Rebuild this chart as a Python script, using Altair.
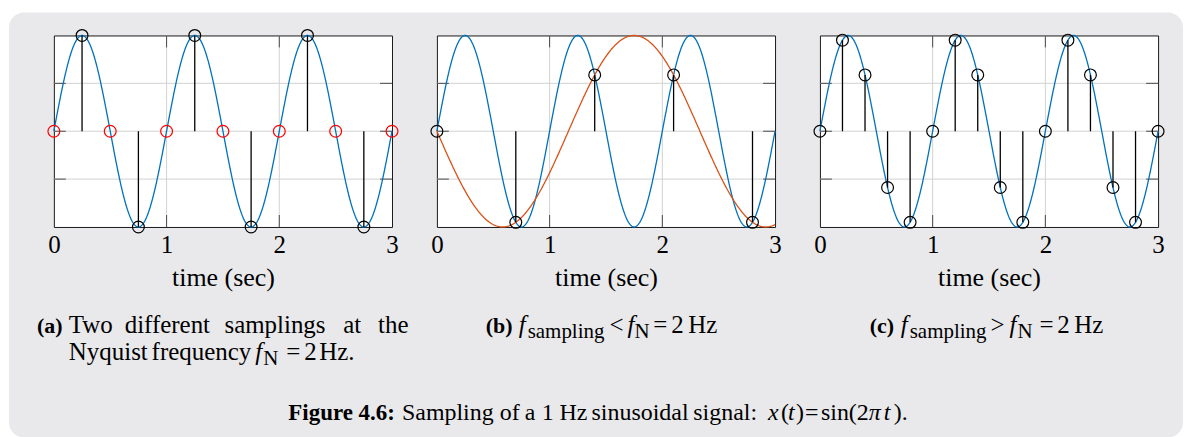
import numpy as np
import pandas as pd
import altair as alt

# ---------------- data ----------------
# continuous signal x(t) = sin(2*pi*t) and the alias seen in (b)
t_curve = np.linspace(0, 3, 601)
x_curve = np.sin(2 * np.pi * t_curve)
alias_curve = -np.sin(2 * np.pi * (3 / 7) * t_curve)

# (a) two samplings at the Nyquist frequency
a_peak_t = [0.25, 0.75, 1.25, 1.75, 2.25, 2.75]
a_peak_v = [1, -1, 1, -1, 1, -1]
a_zero_t = [0, 0.5, 1, 1.5, 2, 2.5, 3]
a_zero_v = [0, 0, 0, 0, 0, 0, 0]
# (b) under-sampling
b_t = [0, 0.7, 1.4, 2.1, 2.8]
b_v = [0, -0.951, 0.588, 0.588, -0.951]
# (c) over-sampling
c_t = [0, 0.2, 0.4, 0.6, 0.8, 1.0, 1.2, 1.4, 1.6, 1.8, 2.0, 2.2, 2.4, 2.6, 2.8, 3.0]
c_v = [0, 0.951, 0.588, -0.588, -0.951, 0, 0.951, 0.588, -0.588, -0.951,
       0, 0.951, 0.588, -0.588, -0.951, 0]

x_ticks = [0, 1, 2, 3]
x_grid = [1, 2]
y_grid = [-0.5, 0, 0.5]

# ---------------- style ----------------
FONT = "Liberation Serif"
W, H = 339, 192
BLUE = "#0072BD"
ORANGE = "#D95319"
GRID = "#d2d2d2"
TICK = "#4a4a4a"
BG = "#e9e9eb"
OX, OY = 6, 34  # page position of the background element

xscale = alt.Scale(domain=[0, 3], nice=False, zero=False)
yscale = alt.Scale(domain=[-1, 1], nice=False, zero=False)
xaxis = alt.Axis(values=x_ticks, format="d", grid=False, ticks=False, tickSize=0,
                 domain=False, labelFont=FONT, labelFontSize=25, labelColor="black",
                 labelPadding=6, labelFlush=False, labelOverlap=False,
                 title="time (sec)", titleFont=FONT, titleFontSize=26,
                 titleFontWeight="normal", titleColor="black", titleY=59,
                 titleBaseline="alphabetic")


def X():
    return alt.X("t:Q", scale=xscale, axis=xaxis)


def Y():
    return alt.Y("v:Q", scale=yscale, axis=None)


def frame_layers():
    dxg = pd.DataFrame({"t": x_grid})
    dyg = pd.DataFrame({"v": y_grid})
    return [
        alt.Chart(dyg).mark_rule(color=GRID, strokeWidth=1).encode(y=Y()),
        alt.Chart(dxg).mark_rule(color=GRID, strokeWidth=1).encode(x=X()),
        alt.Chart(dxg).mark_rule(color=TICK, strokeWidth=1).encode(
            x=X(), y=alt.value(H), y2=alt.value(H - 12)),
        alt.Chart(dxg).mark_rule(color=TICK, strokeWidth=1).encode(
            x=X(), y=alt.value(0), y2=alt.value(12)),
        alt.Chart(dyg).mark_rule(color=TICK, strokeWidth=1).encode(
            y=Y(), x=alt.value(0), x2=alt.value(12)),
        alt.Chart(dyg).mark_rule(color=TICK, strokeWidth=1).encode(
            y=Y(), x=alt.value(W), x2=alt.value(W - 12)),
    ]


def curve(values, color):
    d = pd.DataFrame({"t": t_curve, "v": values})
    return alt.Chart(d).mark_line(color=color, strokeWidth=1.3).encode(x=X(), y=Y())


def stems(ts, vs):
    d = pd.DataFrame({"t": ts, "v": vs})
    return alt.Chart(d).mark_rule(color="black", strokeWidth=1.3).encode(
        x=X(), y=Y(), y2=alt.datum(0))


def dots(ts, vs, color):
    d = pd.DataFrame({"t": ts, "v": vs})
    return alt.Chart(d).mark_point(shape="circle", filled=False, size=140,
                                   strokeWidth=1.2, color=color, opacity=1).encode(
        x=X(), y=Y())


panel_a = alt.layer(
    *frame_layers(),
    curve(x_curve, BLUE),
    stems(a_peak_t, a_peak_v),
    dots(a_peak_t, a_peak_v, "black"),
    dots(a_zero_t, a_zero_v, "#ff0000"),
).properties(width=W, height=H)

panel_b = alt.layer(
    *frame_layers(),
    curve(x_curve, BLUE),
    curve(alias_curve, ORANGE),
    stems(b_t, b_v),
    dots(b_t, b_v, "black"),
).properties(width=W, height=H)

panel_c = alt.layer(
    *frame_layers(),
    curve(x_curve, BLUE),
    stems(c_t, c_v),
    dots(c_t, c_v, "black"),
).properties(width=W, height=H)

# ---------------- background + captions ----------------
one = pd.DataFrame({"k": [0]})


def seg(s, ax, ay, size=25, weight="normal", style="normal"):
    return alt.Chart(one).mark_text(
        font=FONT, fontSize=size, fontWeight=weight, fontStyle=style,
        align="left", baseline="alphabetic", color="black").encode(
        x=alt.value(ax - OX), y=alt.value(ay - OY), text=alt.value(s))


SUB = 21
BOLD = 22
FIG = 24
texts = [
    # (a)
    seg("(a)", 35, 332, size=BOLD, weight="bold"),
    seg("Two", 67, 332),
    seg("different", 123, 332),
    seg("samplings", 223, 332),
    seg("at", 342, 332),
    seg("the", 377, 332),
    seg("Nyquist", 67, 359),
    seg("frequency", 150, 359),
    seg("f", 254, 359, style="italic"),
    seg("N", 262, 364, size=SUB),
    seg("=", 285, 359),
    seg("2", 303, 359),
    seg("Hz.", 318, 359),
    # (b)
    seg("(b)", 485, 332, size=BOLD, weight="bold"),
    seg("f", 518, 332, style="italic"),
    seg("sampling", 527, 337, size=SUB),
    seg("<", 609, 332),
    seg("f", 627, 332, style="italic"),
    seg("N", 634, 337, size=SUB),
    seg("=", 653, 332),
    seg("2", 671, 332),
    seg("Hz", 688, 332),
    # (c)
    seg("(c)", 870, 332, size=BOLD, weight="bold"),
    seg("f", 901, 332, style="italic"),
    seg("sampling", 910, 337, size=SUB),
    seg(">", 991, 332),
    seg("f", 1010, 332, style="italic"),
    seg("N", 1018, 337, size=SUB),
    seg("=", 1040, 332),
    seg("2", 1058, 332),
    seg("Hz", 1075, 332),
    # figure caption
    seg("Figure 4.6:", 287, 420, size=23, weight="bold"),
    seg("Sampling", 401, 420, size=FIG),
    seg("of", 499, 420, size=FIG),
    seg("a", 524, 420, size=FIG),
    seg("1", 541, 420, size=FIG),
    seg("Hz", 559, 420, size=FIG),
    seg("sinusoidal", 591, 420, size=FIG),
    seg("signal:", 693, 420, size=FIG),
    seg("x", 768, 420, size=FIG, style="italic"),
    seg("(", 781, 420, size=FIG),
    seg("t", 788, 420, size=FIG, style="italic"),
    seg(")", 796, 420, size=FIG),
    seg("=", 805, 420, size=FIG),
    seg("sin(2", 821, 420, size=FIG),
    seg("π", 869, 420, size=FIG, style="italic"),
    seg("t", 884, 420, size=FIG, style="italic"),
    seg(").", 894, 420, size=FIG),
]

bg = alt.Chart(one).mark_rect(color=BG, cornerRadius=15).encode(
    x=alt.value(7 - OX), x2=alt.value(1184 - OX),
    y=alt.value(11 - OY), y2=alt.value(437 - OY))

backdrop = alt.layer(bg, *texts).properties(
    width=1, height=1,
    view=alt.ViewBackground(stroke="transparent", fill="transparent"))

chart = alt.hconcat(backdrop, panel_a, panel_b, panel_c, spacing=45, bounds="flush") \
    .properties(padding={"left": 7, "top": 11, "right": 6, "bottom": 0},
                background="white") \
    .configure_view(stroke="#1a1a1a", strokeWidth=1, fill="white")

chart.save("out.html", embed_options={"renderer": "svg", "actions": False})
